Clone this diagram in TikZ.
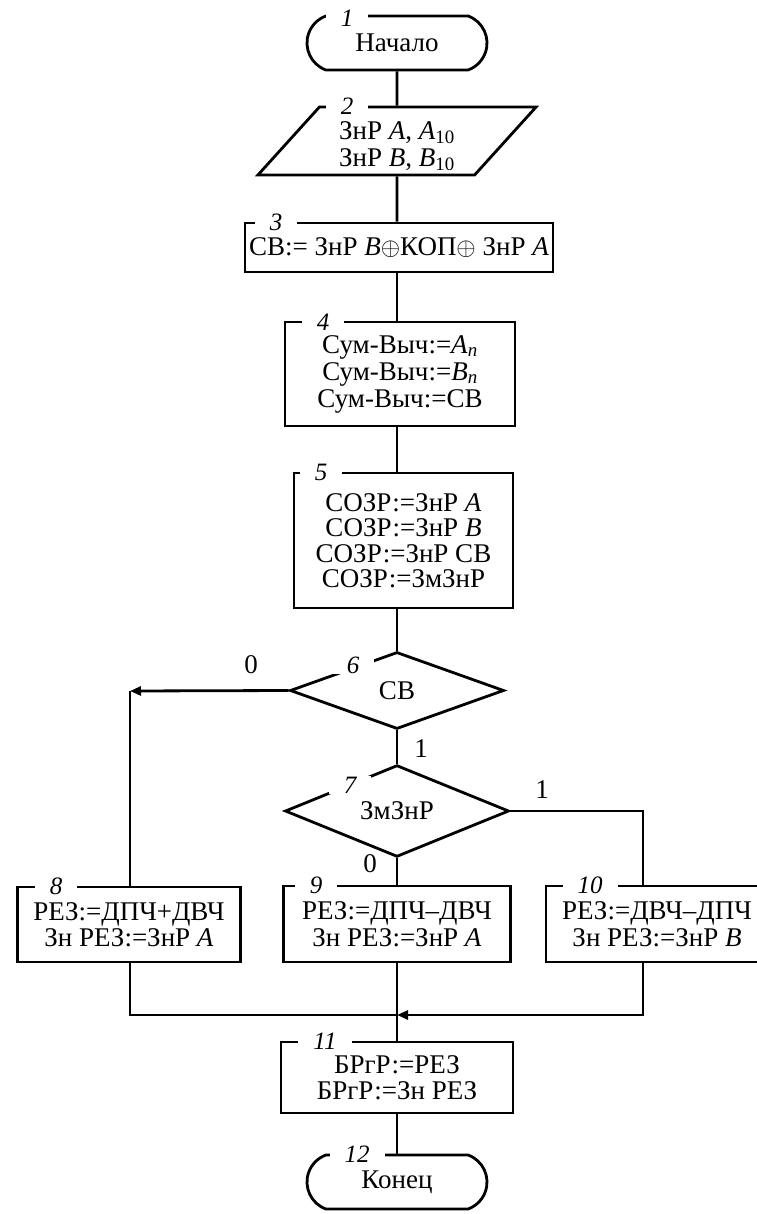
\documentclass[tikz,border=0pt]{standalone}
\usepackage{fontspec}
\setmainfont{Liberation Serif}
\usetikzlibrary{arrows.meta,shapes.geometric,shapes.misc}
\tikzset{
  blk/.style={draw, rectangle, align=center, inner sep=0pt},
  term/.style={draw, rounded rectangle, rounded rectangle arc length=140, minimum width=180pt, minimum height=54pt, inner sep=0pt},
  io/.style={draw, trapezium, trapezium left angle=52, trapezium right angle=128, trapezium stretches=true, align=center, inner sep=0pt},
  cond/.style={draw, diamond, inner sep=0pt},
  num/.style={fill=white, inner xsep=15pt, inner ysep=1pt, font=\fontsize{25}{25}\selectfont\itshape},
  lbl/.style={inner sep=0pt},
  arr/.style={-{Triangle[length=11pt,width=9pt]}}
}
\begin{document}
\begin{tikzpicture}[x=1pt, y=-1pt, line width=2.8pt, font=\fontsize{27}{25.5}\selectfont]
\useasboundingbox (0,0) rectangle (756,1214);
\node[term] (t1) at (397,43) {Начало};
\node[io, minimum width=279pt, minimum height=68pt] (io2) at (397,141) {\rule{0pt}{28pt}ЗнР \textit{A}, \textit{A}\textsubscript{10}\\[1pt]ЗнР \textit{B}, \textit{B}\textsubscript{10}};
\node[blk, minimum width=308pt, minimum height=49pt] (b3) at (399,247.5) {СВ:= ЗнР \textit{B}$\oplus$КОП$\oplus$ ЗнР \textit{A}};
\node[blk, minimum width=230pt, minimum height=104pt, font=\fontsize{27}{27}\selectfont] (b4) at (400,374) {Сум-Выч:=\textit{A}\textsubscript{\textit{n}}\\Сум-Выч:=\textit{B}\textsubscript{\textit{n}}\\Сум-Выч:=СВ};
\node[blk, minimum width=219pt, minimum height=135pt] (b5) at (403.5,540.5) {СОЗР:=ЗнР \textit{A}\\СОЗР:=ЗнР \textit{B}\\СОЗР:=ЗнР СВ\\СОЗР:=ЗмЗнР};
\node[cond, minimum width=214pt, minimum height=77pt] (d6) at (397,690.5) {СВ};
\node[cond, minimum width=224pt, minimum height=82pt] (d7) at (397,811) {\raisebox{-5pt}{ЗмЗнР}};
\node[blk, minimum width=223pt, minimum height=75pt] (b8) at (129,924.5) {РЕЗ:=ДПЧ+ДВЧ\\[1pt]Зн РЕЗ:=ЗнР \textit{A}};
\node[blk, minimum width=227pt, minimum height=76pt] (b9) at (397,924) {РЕЗ:=ДПЧ–ДВЧ\\[1pt]Зн РЕЗ:=ЗнР \textit{A}};
\node[blk, minimum width=222pt, minimum height=76pt] (b10) at (657,924) {РЕЗ:=ДВЧ–ДПЧ\\[1pt]Зн РЕЗ:=ЗнР \textit{B}};
\node[blk, minimum width=232pt, minimum height=71pt] (b11) at (397,1077.5) {БРгР:=РЕЗ\\БРгР:=Зн РЕЗ};
\node[term] (t12) at (397,1182) {Конец};
\coordinate (c8) at (130,691); \coordinate (c10) at (643,811); \coordinate (j) at (397,1015);
\draw (t1.south) -- (io2.north); \draw (io2.south) -- (t1.south |- b3.north); \draw (t1.south |- b3.south) -- (t1.south |- b4.north); \draw (t1.south |- b4.south) -- (t1.south |- b5.north); \draw (t1.south |- b5.south) -- (d6.north);
\draw[arr] (d6.west) -- (c8); \draw (c8) -- (c8 |- b8.north); \draw (d6.south) -- (d7.north);
\draw (d7.east) -- (c10) -- (c10 |- b10.north); \draw (d7.south) -- (b9.north);
\draw (c8 |- b8.south) |- (j); \draw[arr] (c10 |- b10.south) |- (j); \draw (b9.south) -- (b11.north); \draw (b11.south) -- (t12.north);
\node[lbl] (l0a) at (251,665) {0}; \node[lbl] (l1a) at (421,749) {1}; \node[lbl] (l1b) at (542,790) {1}; \node[lbl] (l0b) at (370,864) {0};
\node[num] (n1) at (347,18) {1}; \node[num] (n2) at (347,106) {2}; \node[num] (n3) at (276,222) {3}; \node[num] (n4) at (323,322) {4};
\node[num] (n5) at (321,472) {5}; \node[num] (n6) at (353,665) {6}; \node[num] (n7) at (350,785) {7}; \node[num] (n8) at (56,886) {8};
\node[num] (n9) at (316,885) {9}; \node[num] (n10) at (590,885) {10}; \node[num] (n11) at (325,1041) {11}; \node[num] (n12) at (357,1154) {12};
\end{tikzpicture}
\end{document}
